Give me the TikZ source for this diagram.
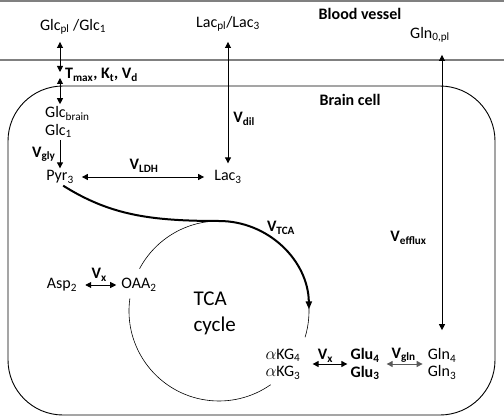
\documentclass[tikz,border=0pt]{standalone}
\usepackage{fontspec}
\setmainfont{Carlito}
\usetikzlibrary{positioning,arrows.meta}

\begin{document}
\begin{tikzpicture}[
    x=1pt, y=1pt,
    metab/.style={inner sep=2pt, font=\fontsize{16}{17.5}\selectfont},
    rate/.style={inner sep=1pt, font=\fontsize{16}{17.5}\selectfont\bfseries},
    region/.style={inner sep=1pt, font=\fontsize{16}{19}\selectfont\bfseries},
    twoway/.style={{Triangle[length=6pt, width=6pt]}-{Triangle[length=6pt, width=6pt]}, line width=0.9pt},
    oneway/.style={-{Triangle[length=6pt, width=6pt]}, line width=0.9pt},
    wall/.style={gray, line width=1.3pt},
    cycle_arc/.style={line width=0.6pt},
    tca_arrow/.style={-{Triangle[length=8pt, width=6pt]}, line width=2pt}
]
\useasboundingbox (0,0) rectangle (504,416);

% Blood vessel wall and brain cell
\draw[wall] (0,415) -- (504,415);
\draw[wall] (0,356) -- (504,356);
\draw[line width=0.9pt, rounded corners=55pt] (8,1) rectangle (495,330);
\node[region] (vessel) at (360,402) {Blood vessel};
\node[region] (cell) at (350,316) {Brain cell};

% Plasma pools
\node[metab] (glc_pl) at (73,389) {Glc\textsubscript{pl} /Glc\textsubscript{1}};
\node[metab] (lac_pl) at (228,392) {Lac\textsubscript{pl}/Lac\textsubscript{3}};
\node[metab] (gln_pl) at (430,381) {Gln\textsubscript{0,pl}};

% Brain pools
\node[metab, anchor=west, align=left] (glc) at (43,294) {Glc\textsubscript{brain}\\Glc\textsubscript{1}};
\node[metab] (pyr) at (60,239) {Pyr\textsubscript{3}};
\node[metab] (lac) at (228,239) {Lac\textsubscript{3}};
\node[metab] (asp) at (62,131) {Asp\textsubscript{2}};
\node[metab] (oaa) at (139,131) {OAA\textsubscript{2}};
\node[metab, align=center] (akg) at (283,52) {$\alpha$KG\textsubscript{4}\\$\alpha$KG\textsubscript{3}};
\node[metab, align=center, font=\fontsize{16}{17.5}\selectfont\bfseries] (glu) at (365,52) {Glu\textsubscript{4}\\Glu\textsubscript{3}};
\node[metab, align=center] (gln) at (442,52) {Gln\textsubscript{4}\\Gln\textsubscript{3}};
\node[anchor=west, align=left, font=\fontsize{21}{26}\selectfont] (tca) at (190,103) {TCA\\cycle};

% Transport across the barrier
\coordinate (glc_gate) at (60,341);
\draw[twoway, shorten <=5pt, shorten >=3pt] (glc_pl.south -| glc_gate) -- (glc_gate);
\draw[twoway, shorten <=3pt] (glc_gate) -- (glc.north -| glc_gate);
\node[rate, right=4pt of glc_gate] (tkv) {T\textsubscript{max}, K\textsubscript{t}, V\textsubscript{d}};
\draw[twoway, shorten <=8pt, shorten >=5pt] (lac_pl.south) -- node[rate, pos=0.63, right=4pt] (vdil) {V\textsubscript{dil}} (lac.north);
\draw[twoway, shorten <=10pt, shorten >=16pt] (gln_pl.south -| gln.north) -- node[rate, pos=0.64, left=14pt] (vefflux) {V\textsubscript{efflux}} (gln.north);

% Glycolysis and LDH
\draw[oneway] (glc.south -| pyr.north) -- node[rate, left=3pt] (vgly) {V\textsubscript{gly}} (pyr.north);
\draw[twoway, shorten <=6pt, shorten >=8pt] (pyr.east) -- node[rate, above=3pt] (vldh) {V\textsubscript{LDH}} (lac.west);

% TCA cycle
\coordinate (tca_c) at (219,105);
\draw[cycle_arc] (tca_c) ++(152:90) arc[start angle=152, end angle=88, radius=90];
\draw[cycle_arc] (tca_c) ++(8:90) arc[start angle=8, end angle=-17, radius=90];
\draw[cycle_arc] (tca_c) ++(172:90) arc[start angle=172, end angle=305, radius=90];
\draw[tca_arrow] (pyr.-70) .. controls (110,201) and (150,195) .. (219,195) arc[start angle=90, end angle=1, radius=90];
\node[rate] (vtca) at (281,188) {V\textsubscript{TCA}};

% Exchange reactions
\draw[twoway, shorten <=6pt, shorten >=3pt] (asp.east) -- node[rate, above=2pt] (vx_oaa) {V\textsubscript{x}} (oaa.west);
\draw[twoway, shorten <=10pt, shorten >=1pt] (akg.east) -- node[rate, above=0pt] (vx_glu) {V\textsubscript{x}} (glu.west);
\draw[twoway, black!65, shorten <=5pt, shorten >=3pt] (glu.east) -- node[rate, black, above=0pt] (vgln) {V\textsubscript{gln}} (gln.west);

\end{tikzpicture}
\end{document}
